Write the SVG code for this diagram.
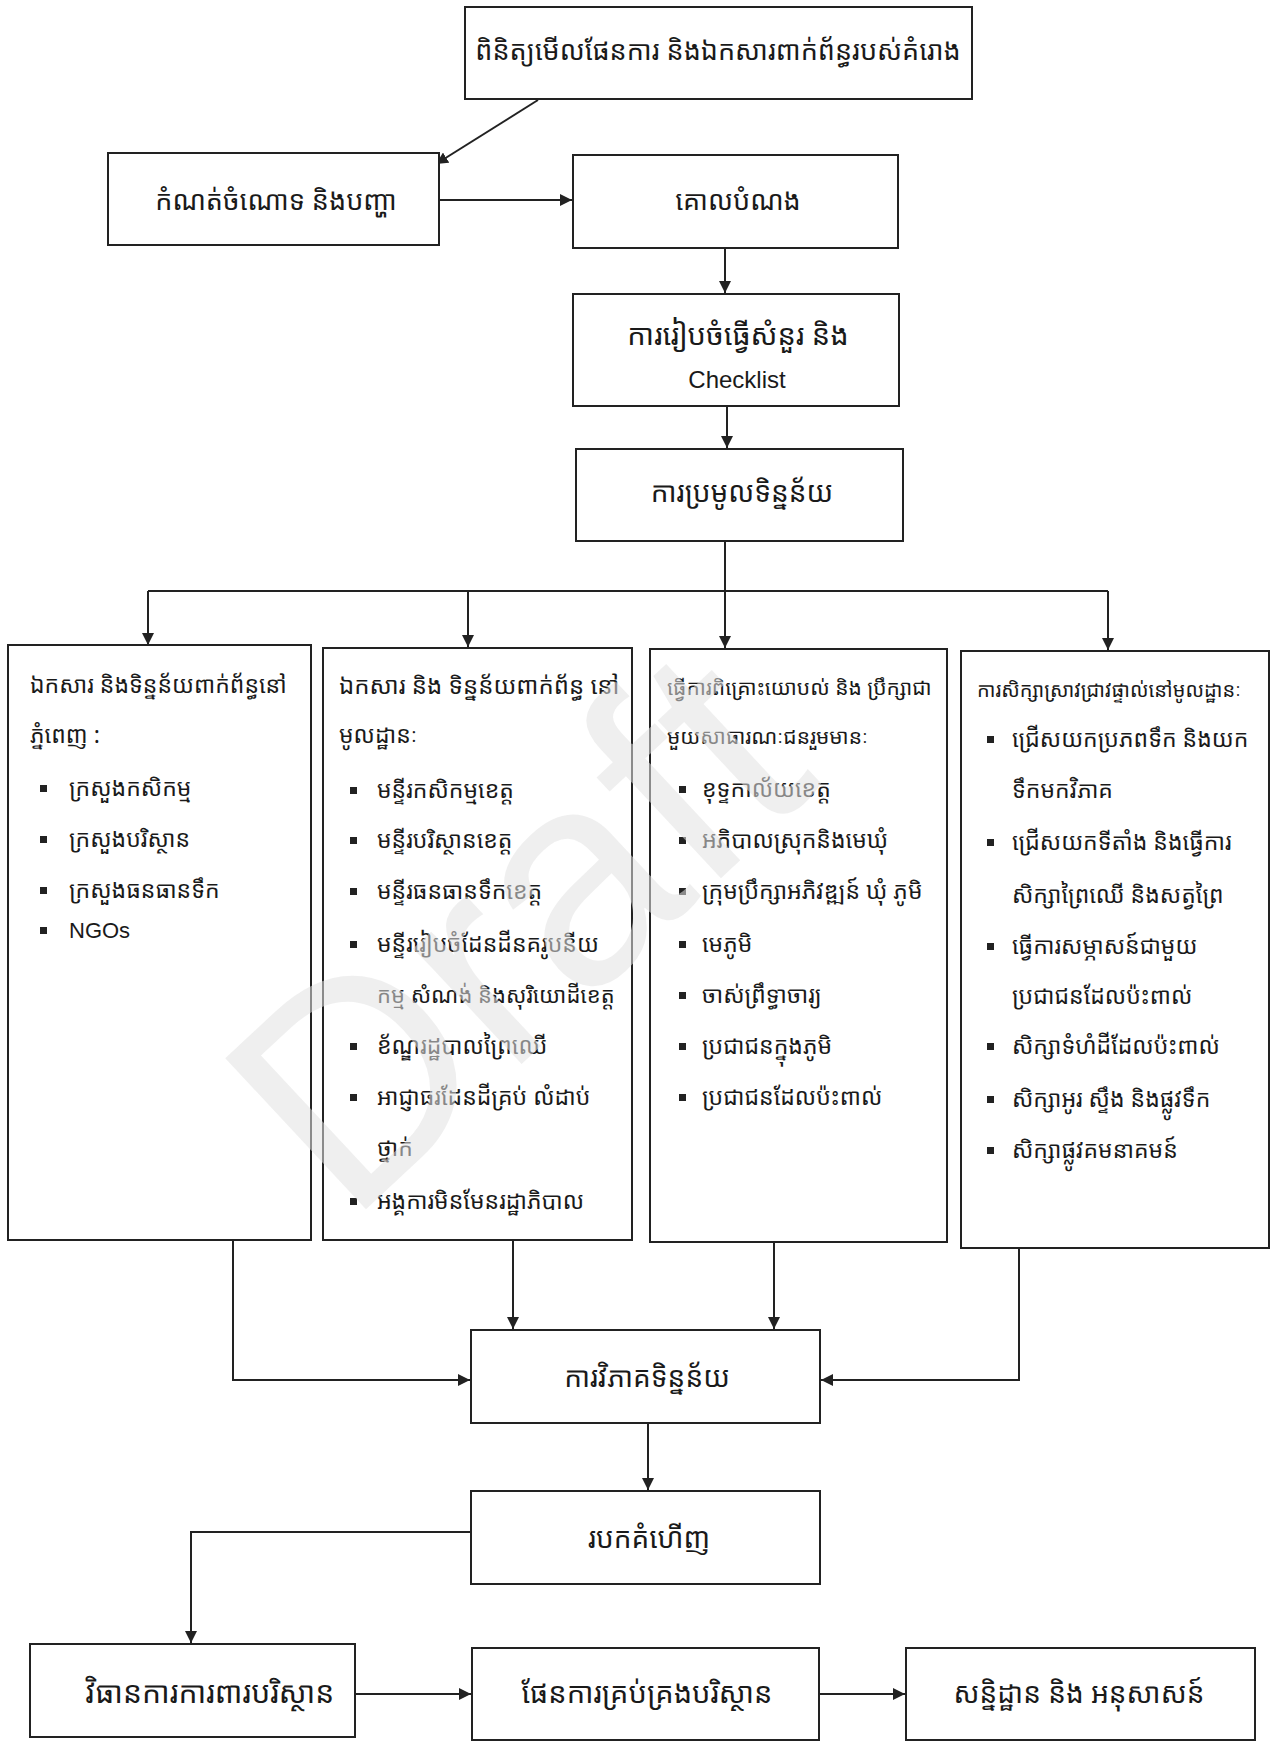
<svg xmlns="http://www.w3.org/2000/svg" width="1279" height="1741" viewBox="0 0 1279 1741">
<defs>
<marker id="ah" viewBox="0 0 10 10" refX="10" refY="5" markerWidth="12" markerHeight="12" markerUnits="userSpaceOnUse" orient="auto">
<path d="M0,0 L10,5 L0,10 z" fill="#222"/>
</marker>
<style>
.box{fill:#fff;stroke:#222;stroke-width:2}
.kh{font-family:"Noto Sans Khmer","Khmer OS","Khmer OS System","Noto Serif Khmer","Noto Sans",sans-serif;fill:#1a1a1a}
.t1{font-size:27px;text-anchor:middle}
.t2{font-size:23px}
.lat{font-family:"Liberation Sans",Arial,sans-serif;fill:#1a1a1a}
.bul{fill:#222}
.con{fill:none;stroke:#222;stroke-width:2}
.wm{font-family:"Liberation Sans",Arial,sans-serif;font-size:300px;fill:#e2e2e2;fill-opacity:0.55}
</style>
</defs>
<rect width="1279" height="1741" fill="#fff"/>

<g id="connectors">
<path class="con" d="M538,100 L436,164" marker-end="url(#ah)"/>
<path class="con" d="M439,200 L572,200" marker-end="url(#ah)"/>
<path class="con" d="M725,248 L725,293" marker-end="url(#ah)"/>
<path class="con" d="M727,406 L727,448" marker-end="url(#ah)"/>
<path class="con" d="M725,541 L725,591"/>
<path class="con" d="M148,591 L1108,591"/>
<path class="con" d="M148,591 L148,645" marker-end="url(#ah)"/>
<path class="con" d="M468,591 L468,647" marker-end="url(#ah)"/>
<path class="con" d="M725,591 L725,648" marker-end="url(#ah)"/>
<path class="con" d="M1108,591 L1108,650" marker-end="url(#ah)"/>
<path class="con" d="M233,1240 L233,1380 L470,1380" marker-end="url(#ah)"/>
<path class="con" d="M513,1240 L513,1329" marker-end="url(#ah)"/>
<path class="con" d="M774,1242 L774,1329" marker-end="url(#ah)"/>
<path class="con" d="M1019,1248 L1019,1380 L821,1380" marker-end="url(#ah)"/>
<path class="con" d="M648,1423 L648,1490" marker-end="url(#ah)"/>
<path class="con" d="M471,1532 L191,1532 L191,1643" marker-end="url(#ah)"/>
<path class="con" d="M355,1694 L471,1694" marker-end="url(#ah)"/>
<path class="con" d="M819,1694 L905,1694" marker-end="url(#ah)"/>
</g>

<g id="n-review">
<rect class="box" x="465" y="7" width="507" height="92"/>
<text class="kh t1" x="718" y="60" font-size="26">ពិនិត្យមើលផែនការ និងឯកសារពាក់ព័ន្ធរបស់គំរោង</text>
</g>
<g id="n-problem">
<rect class="box" x="108" y="153" width="331" height="92"/>
<text class="kh t1" x="276" y="210" font-size="26">កំណត់ចំណោទ និងបញ្ហា</text>
</g>
<g id="n-objective">
<rect class="box" x="573" y="155" width="325" height="93"/>
<text class="kh t1" x="738" y="210">គោលបំណង</text>
</g>
<g id="n-checklist">
<rect class="box" x="573" y="294" width="326" height="112"/>
<text class="kh t1" x="738" y="345" style="font-size:29px">ការរៀបចំធ្វើសំនួរ និង</text>
<text class="lat" x="737" y="388" font-size="24" text-anchor="middle">Checklist</text>
</g>
<g id="n-collect">
<rect class="box" x="576" y="449" width="327" height="92"/>
<text class="kh t1" x="742" y="502" style="font-size:28px">ការប្រមូលទិន្នន័យ</text>
</g>

<g id="n-col1">
<rect class="box" x="8" y="645" width="303" height="595"/>
<text class="kh t2" x="30" y="693">ឯកសារ និងទិន្នន័យពាក់ព័ន្ធនៅ</text>
<text class="kh t2" x="30" y="743">ភ្នំពេញ :</text>
<rect class="bul" x="40" y="785" width="7" height="7"/><text class="kh t2" x="69" y="796">ក្រសួងកសិកម្ម</text>
<rect class="bul" x="40" y="836" width="7" height="7"/><text class="kh t2" x="69" y="847">ក្រសួងបរិស្ថាន</text>
<rect class="bul" x="40" y="887" width="7" height="7"/><text class="kh t2" x="69" y="898">ក្រសួងធនធានទឹក</text>
<rect class="bul" x="40" y="927" width="7" height="7"/><text class="lat" x="69" y="938" font-size="22">NGOs</text>
</g>

<g id="n-col2">
<rect class="box" x="323" y="648" width="309" height="592"/>
<text class="kh t2" x="339" y="694" style="font-size:24px">ឯកសារ និង ទិន្នន័យពាក់ព័ន្ធ នៅ</text>
<text class="kh t2" x="339" y="743">មូលដ្ឋានៈ</text>
<rect class="bul" x="350" y="787" width="7" height="7"/><text class="kh t2" x="377" y="798">មន្ទីរកសិកម្មខេត្ត</text>
<rect class="bul" x="350" y="837" width="7" height="7"/><text class="kh t2" x="377" y="848">មន្ទីរបរិស្ថានខេត្ត</text>
<rect class="bul" x="350" y="888" width="7" height="7"/><text class="kh t2" x="377" y="899">មន្ទីរធនធានទឹកខេត្ត</text>
<rect class="bul" x="350" y="941" width="7" height="7"/><text class="kh t2" x="377" y="952">មន្ទីររៀបចំដែនដីនគរូបនីយ</text>
<text class="kh t2" x="377" y="1003" style="font-size:22px">កម្ម សំណង់ និងសុរិយោដីខេត្ត</text>
<rect class="bul" x="350" y="1043" width="7" height="7"/><text class="kh t2" x="377" y="1054">ខ័ណ្ឌរដ្ឋបាលព្រៃឈើ</text>
<rect class="bul" x="350" y="1094" width="7" height="7"/><text class="kh t2" x="377" y="1105">អាជ្ញាធរដែនដីគ្រប់ លំដាប់</text>
<text class="kh t2" x="377" y="1156">ថ្នាក់</text>
<rect class="bul" x="350" y="1198" width="7" height="7"/><text class="kh t2" x="377" y="1209">អង្គការមិនមែនរដ្ឋាភិបាល</text>
</g>

<g id="n-col3">
<rect class="box" x="650" y="649" width="297" height="593"/>
<text class="kh t2" x="667" y="695" style="font-size:21px">ធ្វើការពិគ្រោះយោបល់ និង ប្រឹក្សាជា</text>
<text class="kh t2" x="667" y="744" style="font-size:21px">មួយសាធារណៈជនរួមមានៈ</text>
<rect class="bul" x="679" y="786" width="7" height="7"/><text class="kh t2" x="702" y="797">ខុទ្ទកាល័យខេត្ត</text>
<rect class="bul" x="679" y="837" width="7" height="7"/><text class="kh t2" x="702" y="848">អភិបាលស្រុកនិងមេឃុំ</text>
<rect class="bul" x="679" y="888" width="7" height="7"/><text class="kh t2" x="702" y="899">ក្រុមប្រឹក្សាអភិវឌ្ឍន៍ ឃុំ ភូមិ</text>
<rect class="bul" x="679" y="941" width="7" height="7"/><text class="kh t2" x="702" y="952">មេភូមិ</text>
<rect class="bul" x="679" y="992" width="7" height="7"/><text class="kh t2" x="702" y="1003">ចាស់ព្រឹទ្ធាចារ្យ</text>
<rect class="bul" x="679" y="1043" width="7" height="7"/><text class="kh t2" x="702" y="1054">ប្រជាជនក្នុងភូមិ</text>
<rect class="bul" x="679" y="1094" width="7" height="7"/><text class="kh t2" x="702" y="1105">ប្រជាជនដែលប៉ះពាល់</text>
</g>

<g id="n-col4">
<rect class="box" x="961" y="651" width="308" height="597"/>
<text class="kh t2" x="977" y="697" style="font-size:20px">ការសិក្សាស្រាវជ្រាវផ្ទាល់នៅមូលដ្ឋានៈ</text>
<rect class="bul" x="987" y="736" width="7" height="7"/><text class="kh t2" x="1012" y="747">ជ្រើសយកប្រភពទឹក និងយក</text>
<text class="kh t2" x="1012" y="798">ទឹកមកវិភាគ</text>
<rect class="bul" x="987" y="839" width="7" height="7"/><text class="kh t2" x="1012" y="850">ជ្រើសយកទីតាំង និងធ្វើការ</text>
<text class="kh t2" x="1012" y="903">សិក្សាព្រៃឈើ និងសត្វព្រៃ</text>
<rect class="bul" x="987" y="943" width="7" height="7"/><text class="kh t2" x="1012" y="954">ធ្វើការសម្ភាសន៍ជាមួយ</text>
<text class="kh t2" x="1012" y="1004">ប្រជាជនដែលប៉ះពាល់</text>
<rect class="bul" x="987" y="1043" width="7" height="7"/><text class="kh t2" x="1012" y="1054">សិក្សាទំហំដីដែលប៉ះពាល់</text>
<rect class="bul" x="987" y="1096" width="7" height="7"/><text class="kh t2" x="1012" y="1107">សិក្សាអូរ ស្ទឹង និងផ្លូវទឹក</text>
<rect class="bul" x="987" y="1147" width="7" height="7"/><text class="kh t2" x="1012" y="1158">សិក្សាផ្លូវគមនាគមន៍</text>
</g>

<g id="n-analysis">
<rect class="box" x="471" y="1330" width="349" height="93"/>
<text class="kh t1" x="647" y="1387" style="font-size:28px">ការវិភាគទិន្នន័យ</text>
</g>
<g id="n-findings">
<rect class="box" x="471" y="1491" width="349" height="93"/>
<text class="kh t1" x="649" y="1548" style="font-size:28px">របកគំហើញ</text>
</g>
<g id="n-measures">
<rect class="box" x="30" y="1644" width="325" height="93"/>
<text class="kh t1" x="210" y="1703" style="font-size:30px">វិធានការការពារបរិស្ថាន</text>
</g>
<g id="n-plan">
<rect class="box" x="472" y="1648" width="347" height="92"/>
<text class="kh t1" x="647" y="1703" style="font-size:29px">ផែនការគ្រប់គ្រងបរិស្ថាន</text>
</g>
<g id="n-conclusion">
<rect class="box" x="906" y="1648" width="349" height="92"/>
<text class="kh t1" x="1079" y="1703" style="font-size:28px">សន្និដ្ឋាន និង អនុសាសន៍</text>
</g>

<text class="wm" transform="translate(348,1226) rotate(-43)">Draft</text>
</svg>
